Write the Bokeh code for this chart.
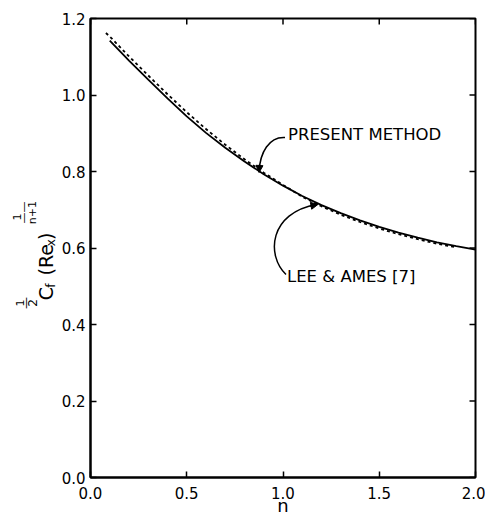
import math
from bokeh.plotting import figure
from bokeh.layouts import row
from bokeh.models import Range1d, FixedTicker, Label, Arrow, NormalHead
from bokeh.core.properties import value
from bokeh.embed import file_html
from bokeh.resources import INLINE

# ---- data ----
present_n = [0.1, 0.2, 0.3, 0.4, 0.5, 0.6, 0.7, 0.8, 0.9, 1.0,
             1.1, 1.2, 1.3, 1.4, 1.5, 1.6, 1.7, 1.8, 1.9, 2.0]
present_cf = [1.142, 1.090, 1.040, 0.991, 0.944, 0.901, 0.862, 0.826, 0.793, 0.763,
              0.736, 0.712, 0.691, 0.672, 0.655, 0.640, 0.627, 0.615, 0.605, 0.596]
lee_n = [0.08, 0.1, 0.2, 0.3, 0.4, 0.5, 0.6, 0.7, 0.8, 0.9, 1.0,
         1.1, 1.2, 1.3, 1.4, 1.5, 1.6, 1.7, 1.8, 1.9]
lee_cf = [1.162, 1.153, 1.101, 1.051, 1.002, 0.955, 0.911, 0.870, 0.832, 0.797, 0.765,
          0.734, 0.709, 0.687, 0.668, 0.651, 0.636, 0.623, 0.611, 0.602]
x_ticks = [0.0, 0.5, 1.0, 1.5, 2.0]
x_tick_labels = ["0.0", "0.5", "1.0", "1.5", "2.0"]
y_ticks = [0.0, 0.2, 0.4, 0.6, 0.8, 1.0, 1.2]
y_tick_labels = ["0.0", "0.2", "0.4", "0.6", "0.8", "1.0", "1.2"]
present_label = "PRESENT METHOD"
lee_label = "LEE & AMES [7]"
x_title = "n"

FONT = "DejaVu Sans"
X_MIN, X_MAX, Y_MIN, Y_MAX = 0.0, 2.0, 0.0, 1.2

# page-pixel -> data helper for annotations (frame: left 89, right 475, top 18, bottom 477)
FL, FR, FT, FB = 89.0, 475.0, 18.0, 477.0
def dx(xp):
    return (xp - FL) / (FR - FL) * (X_MAX - X_MIN)
def dy(yp):
    return (FB - yp) / (FB - FT) * (Y_MAX - Y_MIN)

LEFT_W = 58
TOTAL_W, TOTAL_H = 485, 518

# ---------- main plot ----------
p = figure(width=TOTAL_W - LEFT_W, height=TOTAL_H,
           x_range=Range1d(X_MIN, X_MAX), y_range=Range1d(Y_MIN, Y_MAX),
           output_backend="svg", toolbar_location=None,
           min_border_left=int(FL - LEFT_W), min_border_right=int(TOTAL_W - FR),
           min_border_top=int(FT), min_border_bottom=int(TOTAL_H - FB))
p.grid.visible = False
p.outline_line_color = "black"
p.outline_line_width = 2
p.background_fill_color = "white"
p.border_fill_color = "white"

for ax in list(p.xaxis) + list(p.yaxis):
    ax.axis_line_width = 2
    ax.axis_line_color = "black"
    ax.major_tick_in = 6
    ax.major_tick_out = 0
    ax.major_tick_line_width = 1.5
    ax.major_tick_line_color = "black"
    ax.minor_tick_line_color = None
    ax.major_label_text_font = FONT
    ax.major_label_text_font_size = "15px"
    ax.major_label_text_color = "black"
p.xaxis.ticker = FixedTicker(ticks=x_ticks)
p.xaxis.major_label_overrides = {t: s for t, s in zip(x_ticks, x_tick_labels)}
p.xaxis.major_label_standoff = 9
p.xaxis.axis_label = x_title
p.xaxis.axis_label_text_font = FONT
p.xaxis.axis_label_text_font_style = "normal"
p.xaxis.axis_label_text_font_size = "18px"
p.xaxis.axis_label_text_color = "black"
p.xaxis.axis_label_standoff = -7
p.yaxis.ticker = FixedTicker(ticks=y_ticks)
p.yaxis.major_label_overrides = {t: s for t, s in zip(y_ticks, y_tick_labels)}
p.yaxis.major_label_standoff = 5

# inward ticks on the top and right edges (half of each dash is clipped by the frame)
p.scatter(x=x_ticks, y=[Y_MAX] * len(x_ticks), marker="dash", size=12,
          angle=math.pi / 2, line_color="black", line_width=1.5)
p.scatter(x=[X_MAX] * len(y_ticks), y=y_ticks, marker="dash", size=12,
          line_color="black", line_width=1.5)

# curves
p.line(present_n, present_cf, line_color="black", line_width=1.8)
p.line(lee_n, lee_cf, line_color="black", line_width=1.8, line_dash="3 3")

# annotation leaders
p.bezier(x0=[dx(284), dx(285)], y0=[dy(137), dy(274)],
         x1=[dx(258), dx(316)], y1=[dy(171), dy(204)],
         cx0=[dx(268), dx(265)], cy0=[dy(136), dy(255)],
         cx1=[dx(259), dx(268)], cy1=[dy(152), dy(212)],
         line_color="black", line_width=1.5)
head = dict(size=7, fill_color="black", line_color="black")
p.add_layout(Arrow(end=NormalHead(**head), x_start=dx(258.5), y_start=dy(164),
                   x_end=dx(258), y_end=dy(172), line_color="black", line_width=1.5))
p.add_layout(Arrow(end=NormalHead(**head), x_start=dx(309), y_start=dy(205.5),
                   x_end=dx(317), y_end=dy(204), line_color="black", line_width=1.5))

p.add_layout(Label(x=dx(287), y=dy(143), text=present_label, text_font=FONT,
                   text_font_size="16.5px", text_color="black"))
p.add_layout(Label(x=dx(286), y=dy(285), text=lee_label, text_font=FONT,
                   text_font_size="16.5px", text_color="black"))

# ---------- y-axis title strip (pixel coordinates, y upward) ----------
q = figure(width=LEFT_W, height=TOTAL_H, x_range=Range1d(0, LEFT_W),
           y_range=Range1d(0, TOTAL_H), output_backend="svg", toolbar_location=None,
           x_axis_type=None, y_axis_type=None, min_border=0)
q.grid.visible = False
q.outline_line_color = None
q.background_fill_color = "white"
q.border_fill_color = "white"

def rlab(xp, yp, txt, size, align="center", base="middle"):
    q.text(x=[xp], y=[TOTAL_H - yp], text=[txt], angle=math.pi / 2,
           text_font=value(FONT), text_font_size=value(size),
           text_align=align, text_baseline=base, text_color="black")

rlab(19, 321, "1", "11px")
rlab(25, 321, "\u2014", "12px")
rlab(32, 321, "2", "12px")
rlab(45, 318, "C", "19px", "left", "alphabetic")
rlab(50, 304, "f", "12px", "left", "alphabetic")
rlab(45, 290, "(Re", "19px", "left", "alphabetic")
rlab(50, 257, "x", "12px", "left", "alphabetic")
rlab(45, 250, ")", "19px", "left", "alphabetic")
rlab(16, 224, "1", "11px")
rlab(23, 219, "\u2014\u2014", "11px")
rlab(32, 219, "n+1", "11px")

layout = row(q, p, spacing=0)
open("out.html", "w").write(file_html(layout, INLINE))
